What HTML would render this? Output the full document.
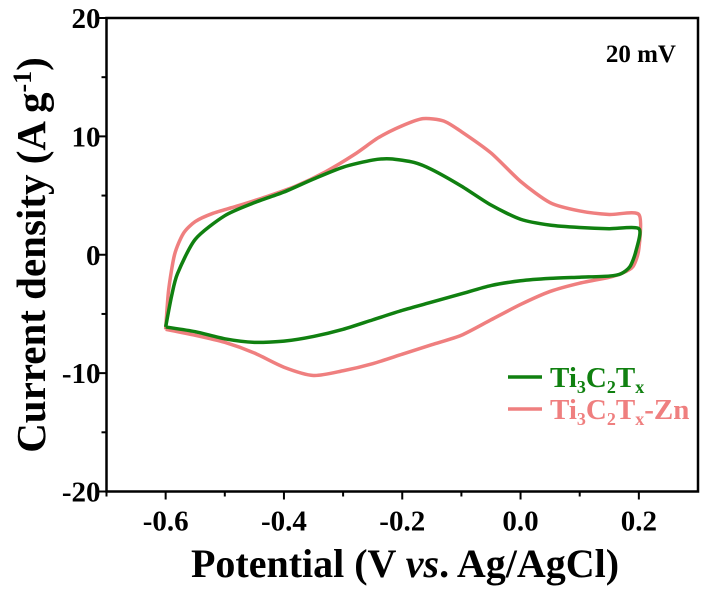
<!DOCTYPE html>
<html><head><meta charset="utf-8"><style>
body{margin:0;background:#fff}
svg{font-family:"Liberation Serif",serif;font-weight:bold}
</style></head><body>
<svg width="702" height="591" viewBox="0 0 702 591">
<g id="axes"></g>
<g id="series"></g>
<text x="676" y="62" font-size="25" text-anchor="end">20 mV</text>
<g>
<line x1="508" y1="377" x2="542" y2="377" stroke="#108010" stroke-width="3.5"/>
<text x="550" y="387" font-size="29" fill="#108010">Ti<tspan font-size="18" dy="6">3</tspan><tspan dy="-6">C</tspan><tspan font-size="18" dy="6">2</tspan><tspan dy="-6">T</tspan><tspan font-size="18" dy="6">x</tspan></text>
<line x1="508" y1="409" x2="542" y2="409" stroke="#ef7f7f" stroke-width="3.5"/>
<text x="550" y="419" font-size="29" fill="#ef7f7f">Ti<tspan font-size="18" dy="6">3</tspan><tspan dy="-6">C</tspan><tspan font-size="18" dy="6">2</tspan><tspan dy="-6">T</tspan><tspan font-size="18" dy="6">x</tspan><tspan dy="-6">-Zn</tspan></text>
</g>
<text x="405" y="577" font-size="40" text-anchor="middle">Potential (V <tspan font-style="italic">vs</tspan>. Ag/AgCl)</text>
<text transform="translate(45,255) rotate(-90)" font-size="41" text-anchor="middle">Current density (A g<tspan font-size="26" dy="-14">-1</tspan><tspan dy="14">)</tspan></text>
</svg>
<script>
const xTicks=[-0.6,-0.4,-0.2,0.0,0.2];
const xTickLabels=["-0.6","-0.4","-0.2","0.0","0.2"];
const yTicks=[-20,-10,0,10,20];
const yTickLabels=["-20","-10","0","10","20"];
const greenV=[-0.6,-0.59,-0.58,-0.55,-0.5,-0.45,-0.4,-0.35,-0.3,-0.25,-0.22,-0.18,-0.15,-0.1,-0.05,0.0,0.05,0.1,0.15,0.2,0.195,0.185,0.17,0.15,0.1,0.05,0.0,-0.05,-0.1,-0.15,-0.2,-0.25,-0.3,-0.35,-0.4,-0.45,-0.5,-0.55,-0.6];
const greenI=[-6.1,-3.5,-1.6,1.3,3.3,4.4,5.3,6.4,7.4,8.0,8.1,7.8,7.2,5.8,4.2,3.0,2.5,2.3,2.2,2.2,0.3,-1.0,-1.6,-1.8,-1.9,-2.0,-2.2,-2.6,-3.3,-4.0,-4.7,-5.5,-6.3,-6.9,-7.3,-7.4,-7.1,-6.5,-6.1];
const pinkV=[-0.6,-0.595,-0.585,-0.57,-0.55,-0.52,-0.48,-0.43,-0.38,-0.33,-0.28,-0.24,-0.2,-0.165,-0.13,-0.1,-0.05,0.0,0.05,0.1,0.15,0.2,0.2,0.19,0.17,0.15,0.1,0.05,0.0,-0.05,-0.1,-0.15,-0.2,-0.25,-0.3,-0.35,-0.4,-0.45,-0.5,-0.55,-0.6];
const pinkI=[-6.3,-3.0,0.0,1.8,2.8,3.5,4.1,4.9,5.8,7.0,8.5,9.9,10.9,11.5,11.3,10.4,8.6,6.2,4.4,3.7,3.4,3.4,0.5,-1.0,-1.6,-1.9,-2.4,-3.1,-4.2,-5.5,-6.8,-7.6,-8.4,-9.2,-9.8,-10.2,-9.5,-8.3,-7.4,-6.8,-6.3];
const NS="http://www.w3.org/2000/svg";
const X0=106.5,X1=698,Y0=491.5,Y1=18;
const sx=v=>X0+(v+0.7)/1.0*(X1-X0);
const sy=i=>Y0-(i+20)/40*(Y0-Y1);
function mk(t,a,p){const e=document.createElementNS(NS,t);for(const k in a)e.setAttribute(k,a[k]);p.appendChild(e);return e;}
const ax=document.getElementById('axes');
const frame=mk('rect',{x:X0,y:Y1,width:X1-X0,height:Y0-Y1,fill:'none',stroke:'#000','stroke-width':2.5},ax);


xTicks.forEach((v,k)=>{
  const t=mk('line',{x1:sx(v),x2:sx(v),y1:Y0,y2:Y0+8,stroke:'#000','stroke-width':2},ax);
  
  
  const m=mk('line',{x1:sx(v-0.1),x2:sx(v-0.1),y1:Y0,y2:Y0+5,stroke:'#000','stroke-width':2},ax);
  
  
  const l=mk('text',{x:sx(v),y:Y0+39,'font-size':29,'text-anchor':'middle'},ax);l.textContent=xTickLabels[k];
  
  
});
yTicks.forEach((v,k)=>{
  const t=mk('line',{x1:X0-8,x2:X0,y1:sy(v),y2:sy(v),stroke:'#000','stroke-width':2},ax);
  
  
  if(v<20){const m=mk('line',{x1:X0-5,x2:X0,y1:sy(v+5),y2:sy(v+5),stroke:'#000','stroke-width':2},ax);
  
  }
  const l=mk('text',{x:X0-6,y:sy(v)+10,'font-size':29,'text-anchor':'end'},ax);l.textContent=yTickLabels[k];
  
  
});
function path(V,I){const p=V.map((v,k)=>[sx(v),sy(I[k])]);let d='M'+p[0].join(',');
  for(let k=0;k<p.length-1;k++){const a=p[Math.max(0,k-1)],b=p[k],c=p[k+1],e=p[Math.min(p.length-1,k+2)];
    const c1=[b[0]+(c[0]-a[0])/8,b[1]+(c[1]-a[1])/8],c2=[c[0]-(e[0]-b[0])/8,c[1]-(e[1]-b[1])/8];
    d+='C'+c1.join(',')+' '+c2.join(',')+' '+c.join(',');}
  return d;}
const s=document.getElementById('series');
const pp=mk('path',{d:path(pinkV,pinkI),fill:'none',stroke:'#ef7f7f','stroke-width':3.5,'stroke-linejoin':'round'},s);


const gp=mk('path',{d:path(greenV,greenI),fill:'none',stroke:'#108010','stroke-width':3.5,'stroke-linejoin':'round'},s);


</script>
</body></html>
